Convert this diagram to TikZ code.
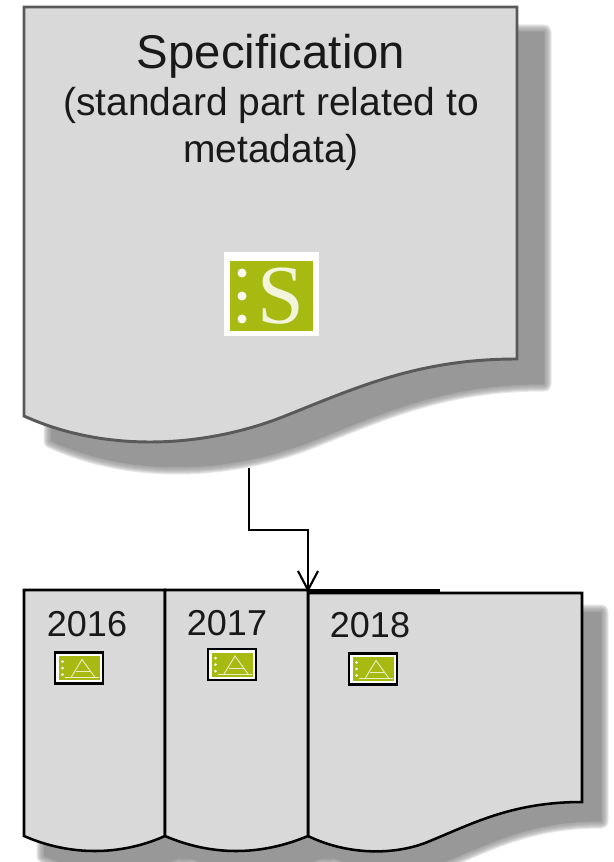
\documentclass[tikz,border=0pt]{standalone}
\usepackage{fontspec}
\setmainfont{Liberation Sans}
\newfontfamily\iconserif{Liberation Serif}
\definecolor{docfill}{HTML}{D9D9D9}
\definecolor{docedge}{HTML}{595959}
\definecolor{shadowgrey}{HTML}{989898}
\definecolor{iconGreen}{HTML}{A6BA12}
\newcommand{\softshadow}[2]{%
  \foreach \w in {15,13,11,9,7,5,3,1}{%
    \fill[shadowgrey,opacity=.22,draw=shadowgrey,line width=\w*.75pt,line join=round,shift={#1}] #2;
  }%
  \fill[shadowgrey,shift={#1}] #2;
}
\newcommand{\yearicon}[3]{%
  \node[icon frame,minimum width=48pt*.75,minimum height=31pt*.75] (#3) at (#1,#2) {};
  \node[icon inner,minimum width=41pt*.75,minimum height=24pt*.75] at (#1,#2) {};
  \foreach \d in {-6.5,0,6.5}{\fill[white!90!iconGreen] (#1-16.5,#2+\d) circle (1.5);}
  \draw[icon line] (#1-8,#2+9.5) -- (#1+3,#2-8.5) -- (#1+16,#2+9.5);
  \draw[icon line] (#1-3,#2+3.5) -- (#1+12,#2+3.5);
  \draw[icon line] (#1-14,#2+9.5) -- (#1+20,#2+9.5);
}
\tikzset{
  x=.75pt,y=-.75pt,
  big title/.style={font=\fontsize{35.5}{40}\selectfont,text=black!90,inner sep=0pt},
  sub title/.style={font=\fontsize{29.2}{35.5}\selectfont,text=black!90,inner sep=0pt,align=center},
  year/.style={font=\fontsize{27}{32}\selectfont,text=black!90,inner sep=0pt},
  panel/.style={fill=docfill,draw=black,line width=1.9pt,line join=miter},
  spec page/.style={fill=docfill,draw=docedge,line width=2.2pt},
  icon frame/.style={draw=black,line width=1.6pt,fill=white,inner sep=0pt},
  icon inner/.style={fill=iconGreen,inner sep=0pt},
  icon line/.style={draw=white!75!iconGreen,line width=.7pt},
  connector/.style={draw=black,line width=1.6pt},
}
\def\specpath{(24,7) -- (517,7) -- (517,359) .. controls (420,359) and (360,386) .. (285,416) .. controls (210,446) and (110,455) .. (24,416) -- cycle}
\def\panelApath{(24,590) -- (165,590) -- (165,836) .. controls (120,856) and (70,856) .. (24,836) -- cycle}
\def\panelBpath{(165,590) -- (308,590) -- (308,836) .. controls (260,856) and (212,856) .. (165,836) -- cycle}
\def\panelCpath{(308,593) -- (582,593) -- (582,802) .. controls (510,802) and (470,825) .. (425,843) .. controls (390,856) and (345,854) .. (308,836) -- cycle}
\begin{document}
\begin{tikzpicture}
\useasboundingbox (0,0) rectangle (613,862);
\clip (0,0) rectangle (613,862);
\fill[white] (0,0) rectangle (613,862);
% shadows
\softshadow{(27,25)}{\specpath}
\softshadow{(20,20)}{\panelApath}
\softshadow{(20,20)}{\panelBpath}
\softshadow{(19,19)}{\panelCpath}
% specification document
\draw[spec page] \specpath;
\node[big title] (spectitle) at (271,56) {Specification};
\node[sub title] (specsub) at (271,129) {(standard part related to\\metadata)};
\node[fill=white,minimum width=71.25pt,minimum height=63pt,inner sep=0pt] (sicon) at (271,294) {};
\node[fill=iconGreen,minimum width=62.25pt,minimum height=52.5pt,inner sep=0pt] (siconin) at (271.5,296) {};
\foreach \d in {273,296,319}{\fill[white!95!iconGreen] (242,\d) circle (4.5);}
\node[font=\iconserif\fontsize{63}{63}\selectfont,text=white!85!iconGreen,inner sep=0pt] (sletter) at (281,296) {S};
% panels
\draw[panel] \panelCpath;
\draw[panel] \panelApath;
\draw[panel] \panelBpath;
\coordinate (panelTop) at (308,590);
\coordinate (specBottom) at (249,468);
\draw[black,line width=3pt] (panelTop) ++(0,1) -- (440,591);
\node[year] (y2016) at (87,624) {2016};
\node[year] (y2017) at (227,623) {2017};
\node[year] (y2018) at (370,625) {2018};
\yearicon{79}{668}{i2016}
\yearicon{232}{664.5}{i2017}
\yearicon{373}{669}{i2018}
% connector
\draw[connector] (specBottom) |- (308,530) -- (panelTop);
\draw[connector] (298,571) -- (panelTop) -- (318,571);
\end{tikzpicture}
\end{document}
